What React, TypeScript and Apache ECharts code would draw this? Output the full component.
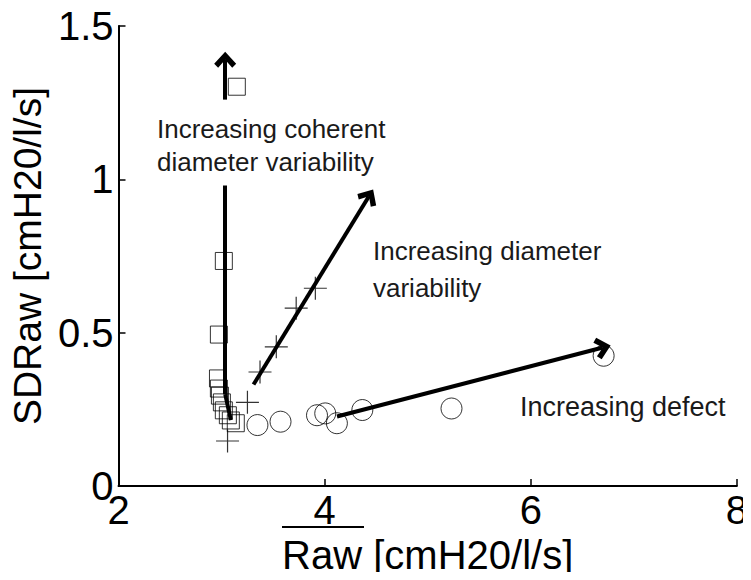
import React, { useEffect, useRef } from "react";
import * as echarts from "echarts";

// Square markers: coherent diameter variability
const coherentRaw = [3.148, 3.022, 2.974, 2.965, 2.974, 2.984, 3.003, 3.022, 3.061, 3.09, 3.138];
const coherentSD = [1.302, 0.734, 0.494, 0.351, 0.318, 0.295, 0.273, 0.247, 0.231, 0.214, 0.205];

// Plus markers: diameter variability
const diameterRaw = [3.91, 3.724, 3.531, 3.373, 3.251, 3.058];
const diameterSD = [0.645, 0.58, 0.454, 0.372, 0.273, 0.147];

// Circle markers: defect
const defectRaw = [3.348, 3.572, 3.926, 4.006, 4.119, 4.366, 5.231, 6.707];
const defectSD = [0.199, 0.21, 0.231, 0.237, 0.205, 0.248, 0.253, 0.425];

// Trend arrows [x1, y1, x2, y2, hasHead]
const arrowSegments: [number, number, number, number, boolean][] = [
  [3.09, 0.215, 3.035, 0.3, false],
  [3.035, 0.3, 3.035, 0.98, false],
  [3.035, 1.26, 3.035, 1.39, true],
  [3.31, 0.331, 4.43, 0.945, true],
  [4.12, 0.227, 6.7, 0.452, true],
];

const xTicks = { min: 2, max: 8, interval: 2 };
const yTicks = { min: 0, max: 1.5, interval: 0.5 };

const FONT = "'Liberation Sans', Arial, Helvetica, sans-serif";
const CHEVRON = "path://M0,0 L10,10 L6.4,13.2 L0,6.6 L-6.4,13.2 L-10,10 Z";

const zip = (xs: number[], ys: number[]) => xs.map((x, i) => [x, ys[i]]);

export default function App() {
  const ref = useRef<HTMLDivElement>(null);

  useEffect(() => {
    if (!ref.current) return;
    const chart = echarts.init(ref.current, undefined, { renderer: "svg" });

    const axisCommon = {
      axisLine: { show: true, onZero: false, lineStyle: { color: "#000", width: 2 } },
      axisTick: { show: true, inside: true, length: 7, lineStyle: { color: "#000", width: 1.5 } },
      splitLine: { show: false },
      axisLabel: { color: "#000", fontSize: 40, fontFamily: FONT },
      nameTextStyle: { color: "#000", fontFamily: FONT },
    };

    chart.setOption({
      animation: false,
      backgroundColor: "#fff",
      grid: { left: 117, right: 12, top: 26, bottom: 92 },
      xAxis: {
        type: "value",
        ...xTicks,
        ...axisCommon,
        axisLabel: { ...axisCommon.axisLabel, margin: 4 },
        name: "Raw [cmH20/l/s]",
        nameLocation: "middle",
        nameGap: 40,
        nameTextStyle: { ...axisCommon.nameTextStyle, fontSize: 40 },
      },
      yAxis: {
        type: "value",
        ...yTicks,
        ...axisCommon,
        axisLabel: { ...axisCommon.axisLabel, margin: 5 },
        name: "SDRaw [cmH20/l/s]",
        nameLocation: "middle",
        nameGap: 54,
        nameTextStyle: { ...axisCommon.nameTextStyle, fontSize: 39 },
      },
      series: [
        {
          type: "scatter",
          name: "coherent",
          data: zip(coherentRaw, coherentSD),
          symbol: "rect",
          symbolSize: 17,
          itemStyle: { color: "rgba(0,0,0,0)", borderColor: "#000", borderWidth: 1 },
          silent: true,
          z: 3,
        },
        {
          type: "scatter",
          name: "diameter",
          data: zip(diameterRaw, diameterSD),
          symbol: "path://M0,-10 L0,10 M-10,0 L10,0",
          symbolSize: 23,
          itemStyle: { color: "rgba(0,0,0,0)", borderColor: "#000", borderWidth: 1.2 },
          silent: true,
          z: 3,
        },
        {
          type: "scatter",
          name: "defect",
          data: zip(defectRaw, defectSD),
          symbol: "circle",
          symbolSize: 21,
          itemStyle: { color: "rgba(0,0,0,0)", borderColor: "#000", borderWidth: 1 },
          silent: true,
          z: 3,
        },
        {
          type: "scatter",
          name: "trends",
          data: [],
          silent: true,
          markLine: {
            silent: true,
            animation: false,
            precision: 4,
            label: { show: false },
            lineStyle: { color: "#000", width: 4, type: "solid" },
            emphasis: { disabled: true },
            data: arrowSegments.map(([x1, y1, x2, y2, head]) => [
              { coord: [x1, y1], symbol: "none" },
              { coord: [x2, y2], symbol: head ? CHEVRON : "none", symbolSize: [22, 16] },
            ]),
          },
          z: 4,
        },
      ],
      graphic: [
        {
          type: "text",
          left: 157,
          top: 112,
          z: 10,
          style: {
            text: "Increasing coherent\ndiameter variability",
            font: `26px ${FONT}`,
            lineHeight: 33,
            fill: "#1a1a1a",
          },
        },
        {
          type: "text",
          left: 373,
          top: 232,
          z: 10,
          style: {
            text: "Increasing diameter\nvariability",
            font: `26px ${FONT}`,
            lineHeight: 37,
            fill: "#1a1a1a",
          },
        },
        {
          type: "text",
          left: 520,
          top: 393,
          z: 10,
          style: {
            text: "Increasing defect",
            font: `27px ${FONT}`,
            fill: "#1a1a1a",
          },
        },
        {
          type: "line",
          z: 10,
          shape: { x1: 282, y1: 527, x2: 364, y2: 527 },
          style: { stroke: "#000", lineWidth: 2 },
        },
      ],
    });

    return () => chart.dispose();
  }, []);

  return <div ref={ref} style={{ width: 751, height: 580, margin: -8 }} />;
}
